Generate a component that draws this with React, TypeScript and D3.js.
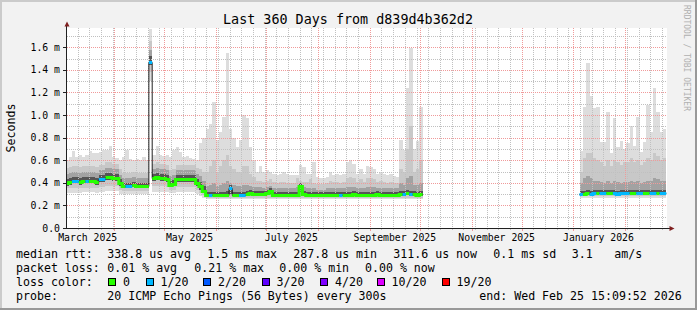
import React from "react";
import * as d3 from "d3";

const W = 697;
const H = 310;

const title = "Last 360 Days from d839d4b362d2";
const yAxisTitle = "Seconds";
const watermark = "RRDTOOL / TOBI OETIKER";
const startISO = "2025-03-02T15:09:52Z";
const endISO = "2026-02-25T15:09:52Z";
const stepDays = 2;

const yTicks = [0, 0.2, 0.4, 0.6, 0.8, 1.0, 1.2, 1.4, 1.6];
const yTickLabels = ["0.0", "0.2 m", "0.4 m", "0.6 m", "0.8 m", "1.0 m", "1.2 m", "1.4 m", "1.6 m"];
const yMinorTicks = [0.1, 0.3, 0.5, 0.7, 0.9, 1.1, 1.3, 1.5, 1.7];
const xLabelMonths = ["2025-03-01", "2025-05-01", "2025-07-01", "2025-09-01", "2025-11-01", "2026-01-01"];

const lossLabels = ["0", "1/20", "2/20", "3/20", "4/20", "10/20", "19/20"];
const lossColors = ["#26ff00", "#00b8ff", "#0059ff", "#5e00ff", "#7e00ff", "#dd00ff", "#ff0000"];

const legendRtt = ["median rtt:", "338.8 us avg", "1.5 ms max", "287.8 us min", "311.6 us now", "0.1 ms sd", "3.1", "am/s"];
const legendLoss = ["packet loss:", "0.01 % avg", "0.21 % max", "0.00 % min", "0.00 % now"];
const legendColorTitle = "loss color:";
const legendProbe = ["probe:", "20 ICMP Echo Pings (56 Bytes) every 300s"];
const legendEnd = "end: Wed Feb 25 15:09:52 2026";

const _ = null;
// no data between early September 2025 and early January 2026 (47 two-day samples)
const GAP = [
  _, _, _, _, _, _, _, _, _, _,
  _, _, _, _, _, _, _, _, _, _,
  _, _, _, _, _, _, _, _, _, _,
  _, _, _, _, _, _, _, _, _, _,
  _, _, _, _, _, _, _,
];

// values in milliseconds, one per 2-day step
const median = [
  0.40, 0.41, 0.42, 0.42, 0.41, 0.42, 0.42, 0.42, 0.42, 0.41,
  0.43, 0.43, 0.45, 0.45, 0.44, 0.44, 0.40, 0.37, 0.37, 0.37,
  0.38, 0.37, 0.37, 0.37, 0.37, 1.47, 0.44, 0.45, 0.44, 0.44,
  0.43, 0.38, 0.39, 0.43, 0.43, 0.43, 0.43, 0.43, 0.43, 0.40,
  0.37, 0.33, 0.29, 0.29, 0.29, 0.29, 0.29, 0.29, 0.29, 0.35,
  0.29, 0.29, 0.29, 0.29, 0.30, 0.31, 0.30, 0.30, 0.30, 0.30,
  0.31, 0.33, 0.29, 0.29, 0.29, 0.29, 0.29, 0.29, 0.29, 0.29,
  0.37, 0.30, 0.29, 0.29, 0.29, 0.29, 0.29, 0.29, 0.29, 0.29,
  0.29, 0.29, 0.29, 0.29, 0.29, 0.29, 0.30, 0.29, 0.29, 0.29,
  0.29, 0.29, 0.29, 0.30, 0.29, 0.29, 0.29, 0.29, 0.29, 0.29,
  0.30, 0.30, 0.31, 0.30, 0.30, 0.29, 0.30,
  ...GAP,
  0.30, 0.30, 0.31, 0.30, 0.31, 0.31, 0.31, 0.31, 0.31, 0.31,
  0.31, 0.30, 0.31, 0.31, 0.31, 0.31, 0.31, 0.31, 0.31, 0.31,
  0.31, 0.31, 0.31, 0.31, 0.31, 0.31,
];

// lost pings out of 20
const loss = [
  0, 0, 1, 1, 0, 0, 1, 0, 0, 0,
  1, 1, 0, 0, 0, 0, 0, 0, 1, 1,
  0, 0, 0, 0, 0, 1, 0, 0, 0, 0,
  0, 0, 0, 0, 0, 0, 0, 0, 0, 0,
  0, 0, 0, 1, 0, 0, 0, 0, 0, 1,
  0, 0, 1, 1, 0, 0, 0, 0, 0, 0,
  0, 0, 0, 0, 0, 0, 0, 0, 0, 0,
  0, 0, 0, 0, 0, 0, 0, 0, 0, 0,
  0, 0, 1, 0, 0, 0, 0, 0, 0, 0,
  0, 0, 0, 0, 0, 0, 0, 0, 0, 0,
  0, 1, 0, 1, 0, 0, 0,
  ...GAP,
  1, 0, 0, 1, 1, 0, 1, 1, 0, 0,
  1, 1, 1, 1, 1, 0, 0, 1, 1, 0,
  0, 1, 1, 0, 1, 1,
];

const smokeMax = [
  0.60, 0.63, 0.68, 0.63, 0.65, 0.63, 0.65, 0.68, 0.66, 0.66,
  0.675, 0.69, 0.69, 0.73, 0.63, 0.62, 0.60, 0.63, 0.69, 0.615,
  0.60, 0.61, 0.605, 0.63, 0.60, 1.76, 0.645, 0.73, 0.645, 0.64,
  0.645, 0.63, 0.69, 0.72, 0.675, 0.63, 0.64, 0.62, 0.615, 0.60,
  0.75, 0.80, 0.88, 0.92, 1.12, 0.78, 0.85, 0.98, 1.55, 0.88,
  0.80, 0.72, 0.78, 1.00, 0.97, 0.72, 0.60, 0.50, 0.55, 0.50,
  0.51, 0.50, 0.48, 0.47, 0.48, 0.50, 0.48, 0.47, 0.47, 0.47,
  0.56, 0.54, 0.48, 0.48, 0.58, 0.45, 0.44, 0.44, 0.45, 0.50,
  0.47, 0.48, 0.47, 0.48, 0.58, 0.60, 0.57, 0.48, 0.52, 0.48,
  0.55, 0.54, 0.52, 0.48, 0.50, 0.48, 0.47, 0.48, 0.46, 0.45,
  0.78, 0.69, 1.24, 1.59, 0.70, 0.77, 1.07,
  ...GAP,
  0.68, 1.07, 1.46, 1.17, 1.06, 1.07, 0.76, 0.76, 1.03, 0.66,
  0.97, 0.72, 0.77, 0.70, 0.75, 0.90, 0.73, 0.98, 0.67, 0.76,
  1.09, 0.85, 1.24, 1.03, 0.85, 0.88,
];

const smokeUp3 = [
  0.53, 0.54, 0.55, 0.55, 0.54, 0.55, 0.55, 0.55, 0.55, 0.54,
  0.56, 0.56, 0.58, 0.58, 0.57, 0.57, 0.52, 0.49, 0.49, 0.49,
  0.50, 0.49, 0.49, 0.49, 0.49, 1.66, 0.57, 0.58, 0.57, 0.57,
  0.56, 0.51, 0.52, 0.56, 0.56, 0.56, 0.56, 0.56, 0.56, 0.53,
  0.52, 0.50, 0.50, 0.55, 0.60, 0.50, 0.55, 0.60, 0.65, 0.55,
  0.52, 0.50, 0.50, 0.55, 0.55, 0.48, 0.45, 0.42, 0.42, 0.41,
  0.42, 0.43, 0.41, 0.40, 0.41, 0.41, 0.40, 0.40, 0.40, 0.44,
  0.42, 0.41, 0.41, 0.43, 0.40, 0.39, 0.39, 0.39, 0.40, 0.42,
  0.41, 0.41, 0.40, 0.41, 0.44, 0.45, 0.44, 0.41, 0.43, 0.41,
  0.44, 0.44, 0.43, 0.41, 0.42, 0.41, 0.40, 0.41, 0.40, 0.40,
  0.52, 0.50, 0.70, 0.90, 0.50, 0.52, 0.60,
  ...GAP,
  0.50, 0.62, 0.66, 0.66, 0.62, 0.60, 0.58, 0.55, 0.60, 0.55,
  0.60, 0.58, 0.56, 0.58, 0.58, 0.62, 0.58, 0.60, 0.56, 0.58,
  0.62, 0.60, 0.66, 0.64, 0.60, 0.62,
];

const smokeUp2 = [
  0.48, 0.49, 0.50, 0.50, 0.49, 0.50, 0.50, 0.50, 0.50, 0.49,
  0.51, 0.51, 0.53, 0.53, 0.52, 0.52, 0.47, 0.44, 0.44, 0.44,
  0.45, 0.44, 0.44, 0.44, 0.44, 1.58, 0.52, 0.53, 0.52, 0.52,
  0.51, 0.46, 0.47, 0.51, 0.51, 0.51, 0.51, 0.51, 0.51, 0.48,
  0.46, 0.42, 0.37, 0.38, 0.40, 0.37, 0.38, 0.40, 0.42, 0.40,
  0.38, 0.37, 0.37, 0.38, 0.38, 0.37, 0.36, 0.36, 0.36, 0.35,
  0.36, 0.37, 0.35, 0.35, 0.35, 0.35, 0.35, 0.35, 0.35, 0.36,
  0.40, 0.36, 0.35, 0.35, 0.35, 0.34, 0.34, 0.34, 0.35, 0.35,
  0.35, 0.35, 0.35, 0.35, 0.36, 0.36, 0.36, 0.35, 0.35, 0.35,
  0.36, 0.36, 0.36, 0.35, 0.35, 0.35, 0.35, 0.35, 0.35, 0.35,
  0.40, 0.38, 0.44, 0.46, 0.38, 0.38, 0.40,
  ...GAP,
  0.40, 0.44, 0.46, 0.44, 0.42, 0.42, 0.41, 0.40, 0.42, 0.40,
  0.42, 0.41, 0.40, 0.41, 0.41, 0.42, 0.41, 0.42, 0.40, 0.41,
  0.42, 0.42, 0.44, 0.43, 0.42, 0.42,
];

const smokeUp1 = [
  0.435, 0.445, 0.455, 0.455, 0.445, 0.455, 0.455, 0.455, 0.455, 0.445,
  0.465, 0.465, 0.485, 0.485, 0.475, 0.475, 0.43, 0.40, 0.40, 0.40,
  0.41, 0.40, 0.40, 0.40, 0.40, 1.52, 0.475, 0.485, 0.475, 0.475,
  0.465, 0.415, 0.425, 0.465, 0.465, 0.465, 0.465, 0.465, 0.465, 0.435,
  0.405, 0.37, 0.32, 0.32, 0.32, 0.32, 0.32, 0.32, 0.33, 0.38,
  0.32, 0.32, 0.32, 0.32, 0.33, 0.34, 0.33, 0.325, 0.325, 0.325,
  0.335, 0.355, 0.315, 0.315, 0.315, 0.315, 0.315, 0.315, 0.315, 0.315,
  0.395, 0.325, 0.315, 0.315, 0.315, 0.315, 0.315, 0.315, 0.315, 0.315,
  0.315, 0.315, 0.315, 0.315, 0.315, 0.315, 0.325, 0.315, 0.315, 0.315,
  0.315, 0.315, 0.315, 0.325, 0.315, 0.315, 0.315, 0.315, 0.315, 0.315,
  0.325, 0.325, 0.34, 0.33, 0.325, 0.315, 0.325,
  ...GAP,
  0.33, 0.33, 0.34, 0.33, 0.34, 0.34, 0.34, 0.34, 0.34, 0.34,
  0.34, 0.33, 0.34, 0.34, 0.34, 0.34, 0.34, 0.34, 0.34, 0.34,
  0.34, 0.34, 0.34, 0.34, 0.34, 0.34,
];

const smokeLow1 = [
  0.375, 0.385, 0.395, 0.395, 0.385, 0.395, 0.395, 0.395, 0.395, 0.385,
  0.405, 0.405, 0.425, 0.425, 0.415, 0.415, 0.37, 0.35, 0.35, 0.35,
  0.36, 0.35, 0.35, 0.35, 0.35, 1.44, 0.415, 0.425, 0.415, 0.415,
  0.405, 0.36, 0.37, 0.405, 0.405, 0.405, 0.405, 0.405, 0.405, 0.37,
  0.34, 0.31, 0.28, 0.28, 0.28, 0.28, 0.28, 0.28, 0.28, 0.30,
  0.28, 0.28, 0.28, 0.28, 0.285, 0.29, 0.285, 0.285, 0.285, 0.285,
  0.29, 0.30, 0.28, 0.28, 0.28, 0.28, 0.28, 0.28, 0.28, 0.28,
  0.31, 0.285, 0.28, 0.28, 0.28, 0.28, 0.28, 0.28, 0.28, 0.28,
  0.28, 0.28, 0.28, 0.28, 0.28, 0.28, 0.285, 0.28, 0.28, 0.28,
  0.28, 0.28, 0.28, 0.285, 0.28, 0.28, 0.28, 0.28, 0.28, 0.28,
  0.285, 0.285, 0.29, 0.285, 0.285, 0.28, 0.285,
  ...GAP,
  0.295, 0.295, 0.30, 0.295, 0.30, 0.30, 0.30, 0.30, 0.30, 0.30,
  0.30, 0.295, 0.30, 0.30, 0.30, 0.30, 0.30, 0.30, 0.30, 0.30,
  0.30, 0.30, 0.30, 0.30, 0.30, 0.30,
];

const smokeLow2 = [
  0.35, 0.35, 0.35, 0.35, 0.35, 0.355, 0.355, 0.355, 0.355, 0.35,
  0.36, 0.36, 0.37, 0.37, 0.37, 0.37, 0.34, 0.33, 0.33, 0.33,
  0.33, 0.33, 0.33, 0.33, 0.33, 1.38, 0.37, 0.37, 0.37, 0.37,
  0.36, 0.34, 0.34, 0.36, 0.36, 0.36, 0.36, 0.36, 0.36, 0.34,
  0.31, 0.29, 0.27, 0.27, 0.27, 0.27, 0.27, 0.27, 0.27, 0.27,
  0.27, 0.27, 0.27, 0.27, 0.27, 0.27, 0.27, 0.27, 0.27, 0.27,
  0.27, 0.27, 0.27, 0.27, 0.27, 0.27, 0.27, 0.27, 0.27, 0.27,
  0.27, 0.27, 0.27, 0.27, 0.27, 0.27, 0.27, 0.27, 0.27, 0.27,
  0.27, 0.27, 0.27, 0.27, 0.27, 0.27, 0.27, 0.27, 0.27, 0.27,
  0.27, 0.27, 0.27, 0.27, 0.27, 0.27, 0.27, 0.27, 0.27, 0.27,
  0.27, 0.27, 0.27, 0.27, 0.27, 0.27, 0.27,
  ...GAP,
  0.28, 0.28, 0.28, 0.28, 0.28, 0.28, 0.28, 0.28, 0.28, 0.28,
  0.28, 0.28, 0.28, 0.28, 0.28, 0.28, 0.28, 0.28, 0.28, 0.28,
  0.28, 0.28, 0.28, 0.28, 0.28, 0.28,
];

const smokeMin = [
  0.31, 0.31, 0.31, 0.31, 0.31, 0.315, 0.315, 0.315, 0.315, 0.31,
  0.32, 0.32, 0.33, 0.33, 0.33, 0.33, 0.30, 0.30, 0.30, 0.30,
  0.30, 0.30, 0.30, 0.30, 0.30, 1.30, 0.32, 0.32, 0.32, 0.32,
  0.32, 0.31, 0.31, 0.32, 0.32, 0.32, 0.32, 0.32, 0.32, 0.30,
  0.28, 0.27, 0.26, 0.26, 0.26, 0.26, 0.26, 0.26, 0.26, 0.26,
  0.26, 0.26, 0.26, 0.26, 0.26, 0.26, 0.26, 0.26, 0.26, 0.26,
  0.26, 0.26, 0.26, 0.26, 0.26, 0.26, 0.26, 0.26, 0.26, 0.26,
  0.26, 0.26, 0.26, 0.26, 0.26, 0.26, 0.26, 0.26, 0.26, 0.26,
  0.26, 0.26, 0.26, 0.26, 0.26, 0.26, 0.26, 0.26, 0.26, 0.26,
  0.26, 0.26, 0.26, 0.26, 0.26, 0.26, 0.26, 0.26, 0.26, 0.26,
  0.26, 0.26, 0.26, 0.26, 0.26, 0.26, 0.26,
  ...GAP,
  0.27, 0.27, 0.27, 0.27, 0.27, 0.27, 0.27, 0.27, 0.27, 0.27,
  0.27, 0.27, 0.27, 0.27, 0.27, 0.27, 0.27, 0.27, 0.27, 0.27,
  0.27, 0.27, 0.27, 0.27, 0.27, 0.27,
];

const lossLevels = [0, 1, 2, 3, 4, 10, 19];

type Sample = {
  a: Date; b: Date; m: number | null; loss: number | null;
  hi: number; u3: number; u2: number; u1: number; l1: number; l2: number; lo: number;
};
type Pt = { t: Date; s: Sample };

const FONT = "'DejaVu Sans Mono', 'Liberation Mono', monospace";

export default function App() {
  const x = d3.scaleUtc().domain([new Date(startISO), new Date(endISO)]).range([65.4, 666.3]);
  const y = d3.scaleLinear().domain([0, 1.6]).range([228, 47.3]);
  const DAY = 86400000;
  const t0 = +new Date(startISO);

  const samples: Sample[] = median.map((m, i) => ({
    a: new Date(t0 + i * stepDays * DAY),
    b: new Date(t0 + (i + 1) * stepDays * DAY),
    m, loss: loss[i],
    hi: smokeMax[i] as number, u3: smokeUp3[i] as number, u2: smokeUp2[i] as number, u1: smokeUp1[i] as number,
    l1: smokeLow1[i] as number, l2: smokeLow2[i] as number, lo: smokeMin[i] as number,
  }));
  const pts: Pt[] = samples.flatMap((s) => [{ t: s.a, s }, { t: s.b, s }]);

  const band = (lowKey: keyof Sample, highKey: keyof Sample) =>
    d3.area<Pt>()
      .defined((p) => p.s.m != null)
      .x((p) => x(p.t))
      .y0((p) => y(p.s[lowKey] as number))
      .y1((p) => y(p.s[highKey] as number))(pts) || "";

  const medianPath = d3.line<Pt>()
    .defined((p) => p.s.m != null)
    .x((p) => x(p.t))
    .y((p) => Math.round(y(p.s.m as number)) + 0.5)(pts) || "";

  const lossPaths = lossLevels.map((k, idx) => ({
    color: lossColors[idx],
    d: d3.line<Pt>()
      .defined((p) => p.s.m != null && p.s.loss === k)
      .x((p) => x(p.t))
      .y((p) => Math.round(y(p.s.m as number)) + 0.5)(pts) || "",
  }));

  const [dStart, dEnd] = x.domain();
  const minorX = d3.utcMonday.range(dStart, dEnd).map((d) => Math.round(x(d)) + 0.5).filter((v) => v > 67 && v < 667);
  const majorX = d3.utcMonth.range(dStart, dEnd).map((d) => Math.round(x(d)) + 0.5).filter((v) => v > 67 && v < 667);
  const fmt = d3.utcFormat("%B %Y");
  const xLabels = xLabelMonths.map((s) => {
    const d = new Date(s + "T00:00:00Z");
    return { text: fmt(d), x: x(d3.utcDay.offset(d, 15)) };
  });

  const plotL = 67, plotR = 667, plotT = 28, plotB = 228;

  const boxX = [108, 145.5, 203, 261.5, 320, 376.5, 441.5];
  const rttX = [16, 107.3, 207.3, 293.3, 393.3, 493.3, 571.7, 614.3];
  const lossX = [16, 107.3, 194.3, 279.3, 365];

  return (
    <svg width={W} height={H} style={{ display: "block", position: "absolute", left: 0, top: 0 }} fontFamily={FONT}>
      <defs>
        <clipPath id="plot">
          <rect x={plotL} y={plotT} width={plotR - plotL} height={plotB - plotT} />
        </clipPath>
      </defs>
      <rect x={0} y={0} width={W} height={H} fill="#f2f2f2" />
      <rect x={0} y={0} width={W} height={2} fill="#cbcbcb" />
      <rect x={0} y={0} width={2} height={H} fill="#cbcbcb" />
      <rect x={0} y={H - 2} width={W} height={2} fill="#999999" />
      <rect x={W - 2} y={0} width={2} height={H} fill="#999999" />

      <rect x={plotL} y={plotT} width={plotR - plotL} height={plotB - plotT} fill="#ffffff" />

      <g clipPath="url(#plot)" shapeRendering="crispEdges">
        <path d={band("lo", "hi")} fill="#dddddd" />
        <path d={band("l2", "u3")} fill="#c8c8c8" />
        <path d={band("l1", "u2")} fill="#a2a2a2" />
        <path d={band("l1", "u1")} fill="#555555" />
      </g>

      <g shapeRendering="crispEdges">
        {yMinorTicks.map((v) => (
          <line key={"ym" + v} x1={plotL} x2={plotR} y1={Math.round(y(v)) + 0.5} y2={Math.round(y(v)) + 0.5}
            stroke="#c0c0c0" strokeDasharray="1,1" />
        ))}
        {minorX.map((v) => (
          <line key={"xm" + v} x1={v} x2={v} y1={plotT} y2={plotB} stroke="#c0c0c0" strokeDasharray="1,1" />
        ))}
        {yTicks.slice(1).map((v) => (
          <line key={"yM" + v} x1={plotL} x2={plotR} y1={Math.round(y(v)) + 0.5} y2={Math.round(y(v)) + 0.5}
            stroke="#f09a9a" strokeDasharray="1,1" />
        ))}
        {majorX.map((v) => (
          <line key={"xM" + v} x1={v} x2={v} y1={plotT} y2={plotB} stroke="#f09a9a" strokeDasharray="1,1" />
        ))}
      </g>

      <g clipPath="url(#plot)">
        <path d={medianPath} fill="none" stroke="#202020" strokeWidth={1} />
        {lossPaths.map((p) => (
          <path key={p.color} d={p.d} fill="none" stroke={p.color} strokeWidth={3} strokeLinejoin="miter" />
        ))}
      </g>

      <g shapeRendering="crispEdges">
        <line x1={66.5} x2={66.5} y1={229} y2={25} stroke="#202020" />
        <line x1={63} x2={670} y1={228.5} y2={228.5} stroke="#202020" />
        {yTicks.slice(1).map((v) => (
          <line key={"yt" + v} x1={63} x2={66} y1={Math.round(y(v)) + 0.5} y2={Math.round(y(v)) + 0.5} stroke="#202020" />
        ))}
        {minorX.map((v) => (
          <line key={"xt" + v} x1={v} x2={v} y1={229} y2={230} stroke="#c0c0c0" />
        ))}
        {majorX.map((v) => (
          <line key={"xT" + v} x1={v} x2={v} y1={229} y2={231} stroke="#f09a9a" />
        ))}
      </g>
      <polygon points="67,21.5 64.5,26.5 69.5,26.5" fill="#7f1f1f" />
      <polygon points="674.5,228.5 669.5,226 669.5,231" fill="#7f1f1f" />

      <text x={348} y={24} textAnchor="middle" fontSize={13.4} fill="#000">{title}</text>

      {yTicks.map((v, i) => (
        <text key={"yl" + v} x={60} y={y(v) + 3.5} textAnchor="end" fontSize={9.8} fill="#000">{yTickLabels[i]}</text>
      ))}
      {xLabels.map((l) => (
        <text key={l.text} x={l.x} y={241} textAnchor="middle" fontSize={9.8} fill="#000">{l.text}</text>
      ))}

      <text transform="translate(15,128) rotate(-90)" textAnchor="middle" fontSize={11.6} fill="#000">{yAxisTitle}</text>
      <text transform="translate(684,5) rotate(90)" fontSize={8} fill="#b0b0b0">{watermark}</text>

      <g fontSize={11.6} fill="#000" style={{ whiteSpace: "pre" }}>
        {legendRtt.map((s, i) => (
          <text key={"r" + i} x={rttX[i]} y={258}>{s}</text>
        ))}
        {legendLoss.map((s, i) => (
          <text key={"l" + i} x={lossX[i]} y={272}>{s}</text>
        ))}
        <text x={16} y={286}>{legendColorTitle}</text>
        {lossLabels.map((s, i) => (
          <g key={"c" + i}>
            <rect x={boxX[i] + 0.5} y={278.5} width={7} height={7} fill={lossColors[i]} stroke="#000" strokeWidth={1} shapeRendering="crispEdges" />
            <text x={boxX[i] + 15} y={286}>{s}</text>
          </g>
        ))}
        <text x={16} y={300}>{legendProbe[0]}</text>
        <text x={107.3} y={300}>{legendProbe[1]}</text>
        <text x={479.3} y={300}>{legendEnd}</text>
      </g>
    </svg>
  );
}
